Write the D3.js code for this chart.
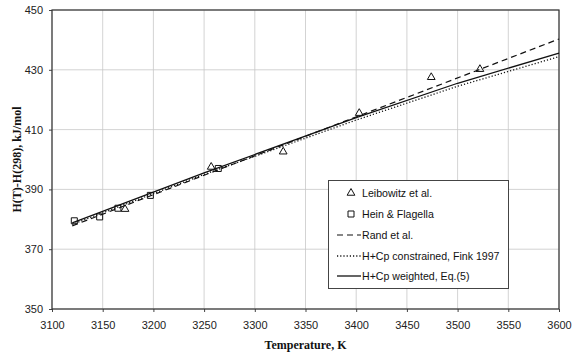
<!DOCTYPE html>
<html>
<head>
<meta charset="utf-8">
<script src="https://cdn.jsdelivr.net/npm/d3@7"></script>
<style>
  html, body { margin: 0; padding: 0; background: #fff; }
  svg { display: block; }
  .tick text { font-family: "Liberation Sans", Arial, sans-serif; font-size: 11px; fill: #222; }
</style>
</head>
<body>
<svg id="chart" width="581" height="354"></svg>
<script>
// Axis ticks
const xTicks = [3100, 3150, 3200, 3250, 3300, 3350, 3400, 3450, 3500, 3550, 3600];
const yTicks = [350, 370, 390, 410, 430, 450];

// Measured enthalpy increments, kJ/mol
const leibowitzT = [3172, 3257, 3328, 3403, 3474, 3522];
const leibowitzH = [383.4, 397.5, 402.6, 415.5, 427.5, 430.2];
const heinT = [3122, 3147, 3165, 3197, 3264];
const heinH = [379.5, 380.8, 383.7, 388.0, 397.0];

// Fitted curves, kJ/mol
const randT = [3120, 3600];
const randH = [377.8, 440.3];
const finkT = [3120, 3250, 3400, 3500, 3600];
const finkH = [378.3, 395.0, 413.2, 424.5, 434.4];
const weightedT = [3120, 3250, 3400, 3500, 3600];
const weightedH = [378.8, 395.5, 414.0, 425.5, 435.6];

// Legend entries
const legendLabels = ["Leibowitz et al.", "Hein & Flagella", "Rand et al.", "H+Cp constrained, Fink 1997", "H+Cp weighted, Eq.(5)"];

const svg = d3.select("#chart");
const margin = { left: 52, right: 22, top: 10, bottom: 45 };
const W = 581, H = 354;

const x = d3.scaleLinear().domain([3100, 3600]).range([margin.left, W - margin.right]);
const y = d3.scaleLinear().domain([350, 450]).range([H - margin.bottom, margin.top]);

// Grid
const grid = svg.append("g").attr("stroke", "#c8c8c8").attr("stroke-width", 0.8);
grid.selectAll("line.v").data(xTicks).join("line")
  .attr("x1", d => x(d)).attr("x2", d => x(d))
  .attr("y1", y(350)).attr("y2", y(450));
grid.selectAll("line.h").data(yTicks).join("line")
  .attr("x1", x(3100)).attr("x2", x(3600))
  .attr("y1", d => y(d)).attr("y2", d => y(d));

// Axes
svg.append("g")
  .attr("transform", `translate(0,${y(350)})`)
  .call(d3.axisBottom(x).tickValues(xTicks).tickFormat(d3.format("d")).tickSize(3).tickPadding(9))
  .call(g => g.select(".domain").remove())
  .call(g => g.selectAll(".tick line").attr("stroke", "#444"));
svg.append("g")
  .attr("transform", `translate(${x(3100)},0)`)
  .call(d3.axisLeft(y).tickValues(yTicks).tickFormat(d3.format("d")).tickSize(3).tickPadding(6))
  .call(g => g.select(".domain").remove())
  .call(g => g.selectAll(".tick line").attr("stroke", "#444"));

// Plot frame
svg.append("rect")
  .attr("x", x(3100)).attr("y", y(450))
  .attr("width", x(3600) - x(3100)).attr("height", y(350) - y(450))
  .attr("fill", "none").attr("stroke", "#333").attr("stroke-width", 1.2);

// Fitted lines
const line = d3.line().x(d => x(d[0])).y(d => y(d[1]));
const zip = (a, b) => a.map((v, i) => [v, b[i]]);
const curveStyles = [
  { data: zip(randT, randH), dash: "6,4", width: 1.2 },
  { data: zip(finkT, finkH), dash: "1.2,2", width: 1.3 },
  { data: zip(weightedT, weightedH), dash: null, width: 1.3 }
];
curveStyles.forEach(c => {
  svg.append("path").datum(c.data).attr("d", line)
    .attr("fill", "none").attr("stroke", "#111")
    .attr("stroke-width", c.width)
    .attr("stroke-dasharray", c.dash);
});

// Markers
const tri = d3.symbol().type(d3.symbolTriangle).size(26);
const sq = d3.symbol().type(d3.symbolSquare).size(36);
svg.append("g").selectAll("path").data(zip(leibowitzT, leibowitzH)).join("path")
  .attr("d", tri).attr("transform", d => `translate(${x(d[0])},${y(d[1])})`)
  .attr("fill", "none").attr("stroke", "#111").attr("stroke-width", 1);
svg.append("g").selectAll("path").data(zip(heinT, heinH)).join("path")
  .attr("d", sq).attr("transform", d => `translate(${x(d[0])},${y(d[1])})`)
  .attr("fill", "none").attr("stroke", "#111").attr("stroke-width", 1);

// Axis titles
svg.append("text")
  .attr("x", (x(3100) + x(3600)) / 2).attr("y", 349)
  .attr("text-anchor", "middle")
  .attr("font-family", "'Liberation Serif', 'Times New Roman', serif")
  .attr("font-weight", "bold").attr("font-size", 12).attr("fill", "#111")
  .text("Temperature, K");
svg.append("text")
  .attr("transform", `translate(21,${(y(350) + y(450)) / 2}) rotate(-90)`)
  .attr("text-anchor", "middle")
  .attr("font-family", "'Liberation Serif', 'Times New Roman', serif")
  .attr("font-weight", "bold").attr("font-size", 12).attr("fill", "#111")
  .text("H(T)-H(298), kJ/mol");

// Legend
const lg = svg.append("g");
lg.append("rect").attr("x", 328.5).attr("y", 180.5).attr("width", 180).attr("height", 108)
  .attr("fill", "#fff").attr("stroke", "#444").attr("stroke-width", 1);
const rowY = [193, 214, 235, 256, 276];
legendLabels.forEach((lab, i) => {
  const yy = rowY[i];
  if (i === 0) {
    lg.append("path").attr("d", tri).attr("transform", `translate(351,${yy})`)
      .attr("fill", "none").attr("stroke", "#111").attr("stroke-width", 1);
  } else if (i === 1) {
    lg.append("path").attr("d", sq).attr("transform", `translate(351,${yy})`)
      .attr("fill", "none").attr("stroke", "#111").attr("stroke-width", 1);
  } else {
    const c = curveStyles[i - 2];
    lg.append("line").attr("x1", 337).attr("x2", 361).attr("y1", yy).attr("y2", yy)
      .attr("stroke", "#111").attr("stroke-width", c.width).attr("stroke-dasharray", c.dash);
  }
  lg.append("text").attr("x", 362).attr("y", yy + 4)
    .attr("font-family", "'Liberation Sans', Arial, sans-serif").attr("font-size", 10.6)
    .attr("fill", "#111").text(lab);
});
</script>
</body>
</html>
